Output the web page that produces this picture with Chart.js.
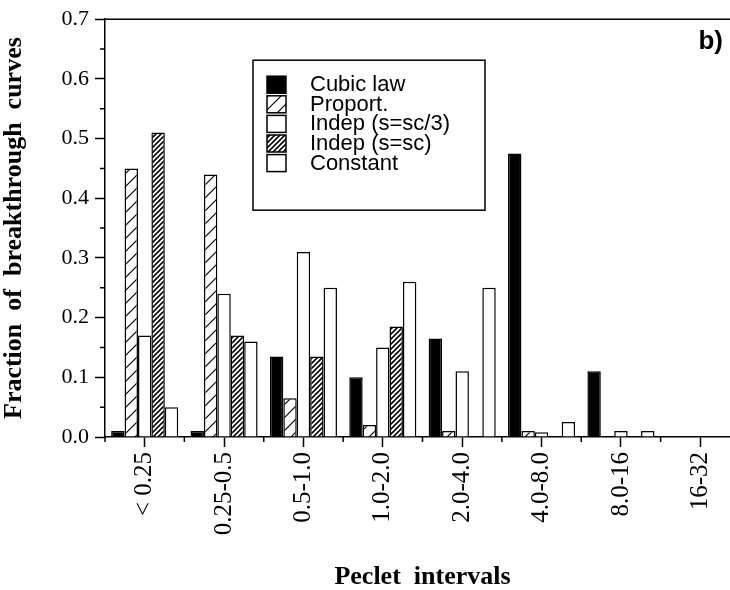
<!DOCTYPE html>
<html>
<head>
<meta charset="utf-8">
<script src="https://cdn.jsdelivr.net/npm/chart.js@4.4.0/dist/chart.umd.min.js"></script>
<style>
  html, body { margin: 0; padding: 0; background: #fff; overflow: hidden; }
</style>
</head>
<body>
<canvas id="pecletChart" width="740" height="590"></canvas>
<script>
/* Peclet intervals - fraction of breakthrough curves, panel b) */

const categories = ['< 0.25', '0.25-0.5', '0.5-1.0', '1.0-2.0', '2.0-4.0', '4.0-8.0', '8.0-16', '16-32'];
const cubicLaw   = [0.01, 0.01, 0.135, 0.10, 0.165, 0.475, 0.11, 0];
const proport    = [0.45, 0.44, 0.065, 0.02, 0.01, 0.01, 0, 0];
const indepThird = [0.17, 0.24, 0.31, 0.15, 0.11, 0.008, 0.01, 0];
const indepFull  = [0.51, 0.17, 0.135, 0.185, 0, 0, 0, 0];
const constant   = [0.05, 0.16, 0.25, 0.26, 0.25, 0.025, 0.01, 0];
const yTicks     = [0, 0.1, 0.2, 0.3, 0.4, 0.5, 0.6, 0.7];

const ctx = document.getElementById('pecletChart').getContext('2d');

// diagonal hatch fill
function hatch(step, lw) {
  const c = document.createElement('canvas');
  c.width = step; c.height = step;
  const g = c.getContext('2d');
  g.fillStyle = '#fff';
  g.fillRect(0, 0, step, step);
  g.strokeStyle = '#000';
  g.lineWidth = lw;
  g.beginPath();
  g.moveTo(-1, step + 1); g.lineTo(step + 1, -1);
  g.moveTo(-1, 1); g.lineTo(1, -1);
  g.moveTo(step - 1, step + 1); g.lineTo(step + 1, step - 1);
  g.stroke();
  return ctx.createPattern(c, 'repeat');
}

const sparseHatch = hatch(13, 1.2);
const denseHatch = hatch(5, 1.6);

/* legend box inside the plot + frame + minor ticks */
const legendBox = {
  id: 'legendBox',
  afterDatasetsDraw(chart) {
    const { ctx, chartArea } = chart;
    const x0 = chartArea.left + 148, y0 = chartArea.top + 41, w = 232, h = 150;
    ctx.save();
    ctx.fillStyle = '#fff';
    ctx.fillRect(x0, y0, w, h);
    ctx.strokeStyle = '#000';
    ctx.lineWidth = 1.5;
    ctx.strokeRect(x0, y0, w, h);
    ctx.font = '22px "Liberation Sans"';
    ctx.textBaseline = 'middle';
    ctx.textAlign = 'left';
    chart.data.datasets.forEach((ds, i) => {
      const cy = y0 + 24 + i * 19.6;
      ctx.fillStyle = ds.backgroundColor;
      ctx.fillRect(x0 + 14, cy - 8, 19, 17);
      ctx.strokeRect(x0 + 14, cy - 8, 19, 17);
      ctx.fillStyle = '#000';
      ctx.fillText(ds.label, x0 + 57, cy + 1);
    });
    ctx.restore();
  }
};

const frameTicks = {
  id: 'frameTicks',
  afterDraw(chart) {
    const { ctx, chartArea, scales: { x, y } } = chart;
    ctx.save();
    ctx.strokeStyle = '#000';
    ctx.lineWidth = 1.5;
    ctx.beginPath();
    ctx.moveTo(chartArea.left, chartArea.top);
    ctx.lineTo(chartArea.right, chartArea.top);
    for (let i = 0; i < yTicks.length - 1; i++) {
      const py = y.getPixelForValue((yTicks[i] + yTicks[i + 1]) / 2);
      ctx.moveTo(chartArea.left - 5, py);
      ctx.lineTo(chartArea.left, py);
    }
    const half = (x.getPixelForValue(1) - x.getPixelForValue(0)) / 2;
    for (let i = 0; i <= categories.length; i++) {
      const px = x.getPixelForValue(i) - half;
      ctx.moveTo(px, chartArea.bottom);
      ctx.lineTo(px, chartArea.bottom + 5);
    }
    ctx.stroke();
    ctx.fillStyle = '#000';
    ctx.font = 'bold 26px "Liberation Sans"';
    ctx.textAlign = 'right';
    ctx.textBaseline = 'middle';
    ctx.fillText('b)', chart.width - 17, chartArea.top + 23);
    ctx.restore();
  }
};

const pecletChart = new Chart(ctx, {
  type: 'bar',
  data: {
    labels: categories,
    datasets: [
      { label: 'Cubic law', data: cubicLaw, backgroundColor: '#000' },
      { label: 'Proport.', data: proport, backgroundColor: sparseHatch },
      { label: 'Indep (s=sc/3)', data: indepThird, backgroundColor: '#fff' },
      { label: 'Indep (s=sc)', data: indepFull, backgroundColor: denseHatch },
      { label: 'Constant', data: constant, backgroundColor: '#fff' }
    ]
  },
  options: {
    responsive: false,
    animation: false,
    layout: { padding: { top: 14, right: 0, bottom: 0, left: 0 } },
    datasets: {
      bar: {
        borderColor: '#000',
        borderWidth: 1.5,
        categoryPercentage: 0.845,
        barPercentage: 1.0
      }
    },
    plugins: {
      legend: { display: false },
      tooltip: { enabled: false }
    },
    scales: {
      x: {
        afterFit: (scale) => { scale.height = 153; },
        grid: {
          offset: false,
          drawOnChartArea: false,
          tickLength: 10,
          tickColor: '#000',
          tickWidth: 1.5
        },
        border: { display: true, color: '#000', width: 1.5 },
        ticks: {
          color: '#000',
          minRotation: 90,
          maxRotation: 90,
          padding: 5,
          font: { family: '"Liberation Serif"', size: 25 }
        },
        title: {
          display: true,
          text: 'Peclet  intervals',
          color: '#000',
          padding: { top: 0, bottom: 0 },
          font: { family: '"Liberation Serif"', size: 26, weight: 'bold', lineHeight: 1.0 }
        }
      },
      y: {
        min: 0,
        max: 0.7,
        afterFit: (scale) => { scale.width = 105; },
        afterBuildTicks: (scale) => { scale.ticks = yTicks.map(v => ({ value: v })); },
        grid: {
          drawOnChartArea: false,
          tickLength: 10,
          tickColor: '#000',
          tickWidth: 1.5
        },
        border: { display: true, color: '#000', width: 1.5 },
        ticks: {
          color: '#000',
          padding: 6,
          font: { family: '"Liberation Serif"', size: 22 },
          callback: (v) => Number(v).toFixed(1)
        },
        title: {
          display: true,
          text: 'Fraction  of  breakthrough  curves',
          color: '#000',
          padding: { top: 1, bottom: 0 },
          font: { family: '"Liberation Serif"', size: 26, weight: 'bold', lineHeight: 1.0 }
        }
      }
    }
  },
  plugins: [legendBox, frameTicks]
});
</script>
</body>
</html>
